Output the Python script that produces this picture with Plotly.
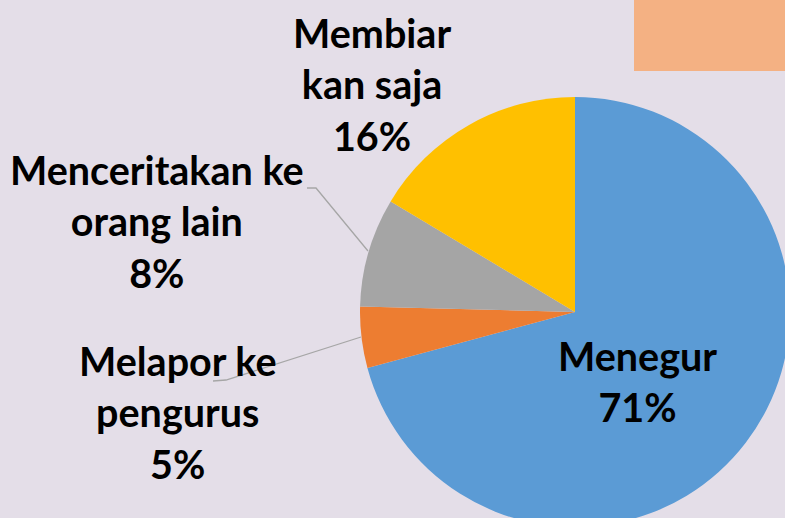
import plotly.graph_objects as go

categories = ["Menegur", "Melapor ke pengurus", "Menceritakan ke orang lain", "Membiar kan saja"]
values = [70.8, 4.6, 8.2, 16.4]
label_lines = [["Menegur"], ["Melapor ke", "pengurus"], ["Menceritakan ke", "orang lain"], ["Membiar", "kan saja"]]
colors = ["#5B9BD5", "#ED7D31", "#A5A5A5", "#FFC000"]

W, H = 790, 527  # canvas slightly larger than window so the pie runs off the edges
CX, CY, R = 575, 312, 215


def px(x):
    return x / W


def py(y):
    return 1 - y / H


fig = go.Figure()
fig.add_trace(go.Pie(
    labels=categories,
    values=values,
    sort=False,
    direction="clockwise",
    rotation=0,
    marker=dict(colors=colors, line=dict(width=0)),
    textinfo="none",
    hoverinfo="label+percent",
    showlegend=False,
    domain=dict(x=[px(CX - R), px(CX + R)], y=[py(CY + R), py(CY - R)]),
))

total = sum(values)
label_pos = [(637, 381), (177, 412), (157, 221), (372, 84)]
font = dict(family="Lato, 'Open Sans', sans-serif", size=39.5, color="#000000")
for lines, v, (x, y) in zip(label_lines, values, label_pos):
    txt = "<b>" + "<br>".join(lines + [f"{100 * v / total:.0f}%"]) + "</b>"
    fig.add_annotation(x=px(x), y=py(y), xref="paper", yref="paper", text=txt,
                       showarrow=False, font=font, align="center",
                       xanchor="center", yanchor="middle")

# leader lines
leaders = [[(307, 188), (316, 188), (368, 251)], [(213, 381), (226, 380), (361, 337)]]
for pts in leaders:
    path = "M " + " L ".join(f"{px(a)},{py(b)}" for a, b in pts)
    fig.add_shape(type="path", path=path, xref="paper", yref="paper",
                  line=dict(color="#A6A6A6", width=1.3))

# orange box top right
fig.add_shape(type="rect", xref="paper", yref="paper", x0=px(634), x1=px(800), y0=py(71), y1=py(-10),
              fillcolor="#F4B183", line=dict(width=0), layer="below")

fig.update_layout(
    width=W, height=H,
    margin=dict(l=0, r=0, t=0, b=0),
    paper_bgcolor="#E4DEE8",
    plot_bgcolor="#E4DEE8",
)

fig.write_html("out.html", config={"displayModeBar": False},
               post_script="document.documentElement.style.overflow='hidden';document.body.style.overflow='hidden';document.body.style.margin='0';")
